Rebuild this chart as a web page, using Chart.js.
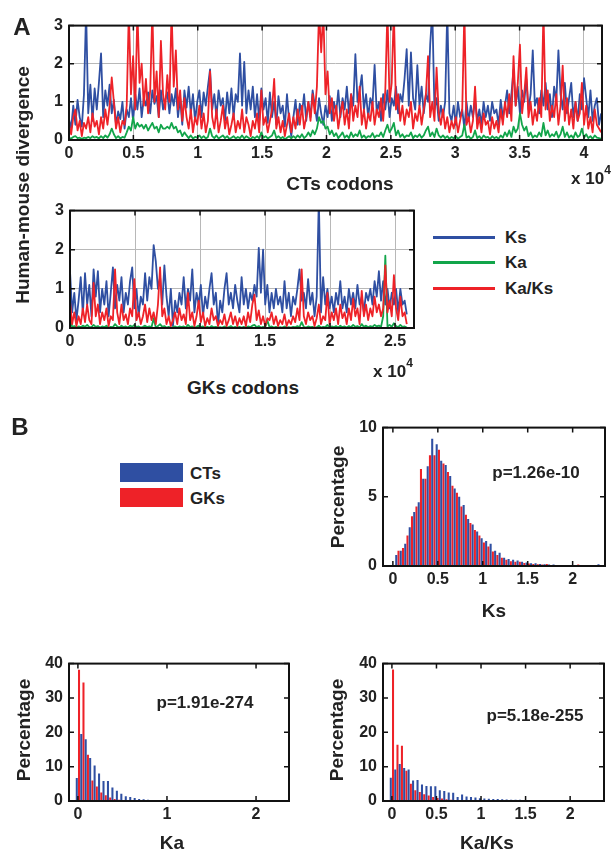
<!DOCTYPE html>
<html><head><meta charset="utf-8">
<script src="https://cdn.jsdelivr.net/npm/chart.js@4.4.1/dist/chart.umd.min.js"></script>
<style>
html,body{margin:0;padding:0;background:#fff;overflow:hidden;}
#fig{position:relative;width:614px;height:850px;font-family:"Liberation Sans",Arial,sans-serif;font-weight:bold;color:#222;overflow:hidden;}
canvas{position:absolute;}
.t{position:absolute;white-space:nowrap;line-height:1;}
.t sup{font-size:12px;vertical-align:top;position:relative;top:-6px;}
.sw{position:absolute;}
</style></head><body><div id="fig"></div>
<script>
// ---------- Panel A data ----------
const ctStep = 166;   // codons per sample (CTs)
const gkStep = 165;   // codons per sample (GKs)
const ctTicks = [0, 5000, 10000, 15000, 20000, 25000, 30000, 35000, 40000];
const gkTicks = [0, 5000, 10000, 15000, 20000, 25000];
const divTicks = [0, 1, 2, 3];

const ctKs = [
0.55,0.3,0.9,0.4,1.05,0.6,0.35,1.2,3.4,0.7,
1.45,0.5,1.35,0.8,1.5,2.27,0.6,1.3,0.9,1.45,
0.7,1.05,0.4,0.75,0.55,1.0,0.3,0.8,0.6,1.1,
0.5,1.2,0.8,1.35,0.6,1.1,0.9,1.25,0.7,1.3,
0.95,1.15,0.6,1.3,0.8,1.05,1.25,0.7,1.2,0.9,
1.35,0.6,1.1,0.4,1.3,0.85,1.4,0.7,1.2,0.5,
1.0,1.3,0.6,1.25,0.9,1.4,1.85,0.8,1.2,0.6,
1.3,0.9,1.1,0.5,1.25,0.7,1.35,0.6,1.2,1.0,
2.27,0.9,2.05,0.7,1.3,0.8,1.4,0.6,1.2,0.5,
1.35,0.8,1.1,0.45,1.25,0.6,1.0,0.4,1.15,0.7,
0.9,0.35,1.2,0.5,0.1,0.6,1.05,0.4,0.95,0.7,
1.2,0.5,1.0,0.6,1.3,0.9,0.5,1.1,0.7,0.4,
0.9,0.6,1.15,0.5,1.0,0.7,1.3,0.6,1.1,0.8,
1.4,0.7,1.2,0.9,2.25,1.0,1.3,1.7,0.8,1.2,
0.6,1.1,0.9,1.97,0.7,1.0,0.5,1.2,0.8,1.3,
0.6,1.1,0.9,1.4,0.7,1.2,1.0,1.6,2.38,0.9,
2.3,1.1,0.8,1.96,0.9,1.4,0.7,1.2,1.0,2.5,
3.4,0.8,1.1,0.5,0.9,0.6,1.0,3.4,0.7,0.5,
0.9,0.4,1.0,0.6,0.8,0.3,1.0,0.5,0.9,0.6,
1.05,0.5,0.8,0.4,1.0,0.6,0.9,0.5,1.0,0.7,
0.8,0.4,1.05,0.6,0.9,1.3,0.7,1.2,1.85,0.9,
1.4,0.7,1.3,1.0,1.6,0.8,1.2,2.35,0.9,1.1,
0.7,1.3,0.9,1.5,0.8,1.2,0.6,1.4,1.0,2.35,
1.2,0.8,1.5,0.7,1.1,1.5,0.6,1.0,0.5,1.2,
0.8,1.62,1.1,0.6,1.3,0.5,0.9,1.1,0.4,0.7];

const ctKaKs = [
0.4,0.15,0.6,0.8,0.25,0.5,0.1,0.45,0.3,0.6,
0.2,0.7,0.35,0.5,0.15,0.6,0.3,0.8,0.4,0.9,
1.64,1.0,0.3,0.6,0.2,0.5,0.4,0.9,3.4,1.2,
2.2,0.8,3.4,1.5,2.0,0.9,1.6,0.7,1.3,3.4,
1.0,1.8,0.6,2.6,1.2,0.8,1.7,1.0,3.4,1.4,
2.35,0.8,1.3,0.5,1.1,0.6,0.3,0.8,0.2,0.6,
0.4,0.9,0.3,0.7,0.2,0.5,1.8,0.6,0.3,0.8,
0.2,0.5,0.9,0.3,0.6,0.15,0.4,0.7,0.2,0.5,
0.3,0.8,0.2,0.6,0.4,0.1,0.5,0.3,0.7,0.2,
1.3,0.4,0.6,0.2,0.5,0.8,1.6,0.3,0.6,0.2,
0.5,0.1,0.4,0.7,0.2,0.6,0.3,0.8,0.4,0.9,
0.3,0.6,1.0,0.5,1.2,0.7,1.4,3.4,2.3,3.4,
1.2,1.8,0.7,1.1,0.5,0.9,0.3,0.7,1.0,0.4,
0.8,0.3,1.2,0.5,0.9,0.6,1.4,0.4,0.8,0.3,
0.7,0.5,1.0,0.4,0.8,0.6,1.1,0.5,1.3,3.4,
1.0,1.5,3.4,0.8,1.2,0.5,0.9,0.4,0.8,0.6,
1.0,0.3,0.7,0.5,0.9,0.4,0.8,1.2,2.2,0.6,
1.0,0.5,1.9,0.7,0.4,0.8,0.3,0.6,0.2,0.5,
0.3,0.6,0.2,0.5,0.8,3.4,0.4,0.6,0.2,0.5,
1.4,0.3,0.6,0.2,0.7,0.4,0.5,0.15,0.6,0.3,
0.5,0.2,0.8,0.4,1.0,0.6,1.2,0.5,2.2,0.9,
1.5,2.5,0.7,1.2,1.9,0.6,1.0,0.4,0.8,0.5,
1.1,0.6,3.4,0.8,1.3,0.5,0.9,0.6,1.2,0.4,
0.9,1.95,0.5,1.1,0.4,0.8,0.3,1.0,0.5,0.7,
1.5,0.4,0.9,0.3,0.6,0.2,0.8,0.4,0.3,0.2];

const ctKa = [
0.05,0.04,0.08,0.1,0.05,0.06,0.03,0.06,0.05,0.08,
0.05,0.1,0.06,0.08,0.04,0.1,0.05,0.12,0.06,0.15,
0.3,0.15,0.05,0.1,0.04,0.08,0.06,0.2,0.35,0.25,
0.6,0.3,0.45,0.35,0.4,0.3,0.4,0.25,0.35,0.45,
0.3,0.35,0.2,0.4,0.3,0.3,0.35,0.3,0.45,0.3,
0.35,0.2,0.25,0.1,0.2,0.12,0.05,0.12,0.04,0.08,
0.06,0.12,0.05,0.1,0.04,0.08,0.3,0.1,0.05,0.12,
0.04,0.08,0.12,0.05,0.1,0.03,0.06,0.1,0.04,0.08,
0.05,0.12,0.04,0.1,0.06,0.02,0.08,0.05,0.1,0.04,
0.2,0.06,0.1,0.04,0.08,0.12,0.25,0.05,0.1,0.04,
0.08,0.02,0.06,0.1,0.04,0.1,0.05,0.12,0.06,0.15,
0.05,0.1,0.2,0.1,0.25,0.15,0.3,0.6,0.45,0.5,
0.3,0.35,0.15,0.25,0.1,0.18,0.05,0.12,0.2,0.06,
0.12,0.05,0.2,0.08,0.15,0.1,0.25,0.06,0.12,0.05,
0.1,0.08,0.18,0.06,0.12,0.1,0.2,0.08,0.25,0.4,
0.2,0.3,0.45,0.12,0.25,0.08,0.15,0.06,0.12,0.1,
0.2,0.05,0.12,0.08,0.15,0.06,0.12,0.25,0.35,0.1,
0.2,0.08,0.3,0.12,0.06,0.12,0.05,0.1,0.03,0.08,
0.05,0.1,0.03,0.08,0.12,0.4,0.06,0.1,0.03,0.08,
0.25,0.05,0.1,0.03,0.12,0.06,0.08,0.02,0.1,0.05,
0.08,0.03,0.12,0.06,0.2,0.1,0.25,0.08,0.35,0.2,
0.3,0.7,0.4,0.25,0.35,0.1,0.2,0.06,0.12,0.08,
0.2,0.1,0.45,0.12,0.25,0.08,0.15,0.1,0.22,0.06,
0.15,0.35,0.08,0.2,0.06,0.12,0.05,0.2,0.08,0.12,
0.3,0.06,0.15,0.05,0.1,0.03,0.12,0.06,0.05,0.03];

const gkKs = [
1.45,0.4,0.9,0.2,0.7,1.3,0.35,1.4,0.6,1.1,
0.3,1.5,0.8,1.45,0.4,1.0,0.6,1.2,0.3,0.9,
1.55,0.5,1.1,0.7,1.3,0.4,0.9,0.6,1.2,1.55,
0.5,1.0,0.3,0.8,0.6,1.4,0.7,1.3,1.0,2.12,
1.7,1.0,1.3,0.6,1.6,0.8,0.3,1.0,0.05,0.7,
0.4,0.9,0.6,1.3,0.5,1.0,0.7,1.5,0.4,0.9,
0.6,1.1,0.3,0.8,0.5,1.0,1.4,0.6,0.9,0.05,
0.7,0.4,1.0,1.4,0.6,0.9,0.5,1.1,0.7,0.4,
1.3,0.6,1.0,0.5,0.9,0.7,1.1,0.8,2.05,0.9,
2.0,0.6,1.1,0.4,0.9,0.5,1.0,0.6,0.8,0.4,
1.2,0.5,0.9,0.3,0.8,0.6,1.0,1.5,0.7,0.9,
0.5,1.25,0.6,0.9,0.3,0.8,3.3,0.4,1.3,0.6,
1.0,0.5,0.8,0.4,0.9,0.6,1.2,0.5,0.8,0.4,
1.0,0.6,0.9,0.5,1.1,0.6,0.8,0.4,0.9,0.7,
1.0,0.6,1.2,0.8,1.45,0.7,1.2,0.6,1.0,0.5,
0.9,0.6,1.0,0.4,1.0,0.6,0.7,0.35];

const gkKaKs = [
0.7,0.1,0.4,0.05,0.3,0.1,0.5,0.15,0.6,0.2,
0.1,1.15,0.3,0.6,0.1,0.4,0.2,0.5,0.05,0.3,
0.2,1.5,0.4,0.1,0.6,0.2,0.35,0.1,0.5,0.3,
1.25,0.2,0.4,0.1,0.3,0.6,0.15,0.5,0.2,0.4,
0.1,0.6,1.55,0.3,0.5,0.1,0.3,0.05,0.2,0.4,
0.1,0.5,0.2,0.35,0.1,0.9,0.2,0.4,0.05,0.3,
0.7,0.15,0.4,0.05,0.25,0.1,0.5,0.2,0.3,0.05,
0.2,0.1,0.35,0.05,0.2,0.4,0.1,0.3,0.05,0.25,
0.1,0.3,0.05,0.4,0.15,0.6,0.85,0.2,0.45,0.1,
0.3,0.05,0.25,0.2,0.4,0.1,0.3,0.05,0.2,0.1,
0.35,0.05,0.2,0.1,0.3,0.15,0.5,0.2,1.5,0.3,
0.1,0.4,0.2,0.3,0.05,0.25,0.6,0.1,0.3,0.2,
0.9,0.1,0.4,0.2,0.5,0.1,0.6,0.25,0.4,0.1,
0.5,0.2,0.75,0.3,0.5,0.1,0.95,0.3,0.6,0.2,
0.5,0.3,0.8,0.4,0.6,0.3,0.5,1.6,0.4,0.7,
0.3,1.35,0.5,0.2,0.8,0.3,0.4,0.1];

const gkKa = [
0.3,0.02,0.05,0.01,0.04,0.02,0.06,0.03,0.08,0.02,
0.02,0.08,0.03,0.05,0.01,0.04,0.02,0.06,0.01,0.03,
0.02,0.1,0.04,0.01,0.06,0.02,0.04,0.01,0.06,0.03,
0.08,0.02,0.04,0.01,0.03,0.06,0.02,0.04,0.02,0.25,
0.01,0.05,0.1,0.03,0.05,0.01,0.03,0.01,0.02,0.04,
0.01,0.04,0.02,0.04,0.01,0.08,0.02,0.04,0.01,0.03,
0.06,0.02,0.04,0.01,0.03,0.01,0.05,0.02,0.03,0.01,
0.02,0.01,0.04,0.01,0.02,0.05,0.01,0.03,0.01,0.03,
0.01,0.03,0.01,0.04,0.02,0.06,0.08,0.02,0.05,0.01,
0.03,0.01,0.2,0.02,0.04,0.01,0.03,0.01,0.02,0.01,
0.04,0.01,0.02,0.01,0.03,0.02,0.05,0.02,0.15,0.03,
0.01,0.04,0.02,0.03,0.01,0.02,0.06,0.01,0.03,0.02,
0.08,0.01,0.04,0.02,0.05,0.01,0.06,0.02,0.04,0.01,
0.05,0.02,0.08,0.03,0.05,0.01,0.1,0.03,0.06,0.02,
0.05,0.03,0.08,0.04,0.06,0.03,0.3,1.85,0.04,0.08,
0.03,0.12,0.05,0.02,0.08,0.03,0.04,0.01];

// ---------- Panel B data (percentage per 0.05 bin) ----------
const ksBins = [0.05,0.10,0.15,0.20,0.25,0.30,0.35,0.40,0.45,0.50,0.55,0.60,0.65,0.70,0.75,0.80,0.85,0.90,0.95,1.00,
1.05,1.10,1.15,1.20,1.25,1.30,1.35,1.40,1.45,1.50,1.55,1.60,1.65,1.70,1.75,1.80,1.85,1.90,1.95,2.00,2.05,2.10,2.15,2.20,2.25,2.30];
const ksCTs = [0.8,1.1,1.6,2.8,3.9,4.6,6.3,7.2,9.2,8.8,7.6,7.3,6.5,5.6,5.0,4.4,3.4,3.0,2.5,2.0,
1.8,1.6,1.1,0.95,0.6,0.5,0.45,0.4,0.3,0.25,0.2,0.2,0.15,0.12,0.1,0.1,0.08,0.07,0.06,0.05,0.05,0.04,0.03,0.03,0.02,0.12];
const ksGKs = [1.1,1.3,2.2,3.6,4.3,7.0,6.3,8.0,8.0,8.4,7.4,6.8,5.8,5.3,4.3,3.7,3.1,2.6,2.2,1.7,
1.4,1.05,0.8,0.6,0.45,0.35,0.3,0.3,0.22,0.18,0.15,0.12,0.1,0.15,0.06,0.05,0.05,0.04,0.03,0.03,0.1,0.04,0.02,0.02,0.01,0.01];

const kaBins = [0,0.05,0.10,0.15,0.20,0.25,0.30,0.35,0.40,0.45,0.50,0.55,0.60,0.65,0.70,0.75,0.80,0.85,0.90,0.95,1.00,1.05,1.10,1.15,1.20];
const kaCTs = [6.7,19.5,18.0,12.5,10.3,8.0,5.8,5.8,3.9,3.0,2.1,1.4,1.2,0.9,0.6,0.5,0.4,0.3,0.25,0.2,0.15,0.1,0.08,0.06,0.05];
const kaGKs = [38.2,34.5,13.5,6.0,4.2,2.5,1.7,1.0,0.6,0.4,0.25,0.15,0.1,0.08,0.05,0.04,0.03,0.02,0.02,0.01,0.01,0,0,0,0];

const kaksBins = [0,0.05,0.10,0.15,0.20,0.25,0.30,0.35,0.40,0.45,0.50,0.55,0.60,0.65,0.70,0.75,0.80,0.85,0.90,0.95,
1.00,1.05,1.10,1.15,1.20,1.25,1.30,1.35,1.40,1.45,1.50,1.55,1.60,1.65,1.70,1.75,1.80,1.85,1.90,1.95,2.00,2.05,2.10,2.15,2.20,2.25];
const kaksCTs = [6.8,9.2,10.8,9.6,9.2,6.0,6.1,4.8,4.4,4.3,4.3,3.1,2.9,2.5,2.4,1.2,1.9,1.3,1.2,1.0,
0.8,0.7,0.65,0.6,0.55,0.5,0.45,0.4,0.38,0.35,0.3,0.28,0.25,0.22,0.2,0.2,0.18,0.16,0.15,0.14,0.12,0.1,0.1,0.08,0.08,0.06];
const kaksGKs = [38.3,16.4,16.1,8.8,5.0,3.1,2.6,2.0,1.6,1.2,0.9,0.7,0.5,0.4,0.3,0.25,0.2,0.18,0.15,0.12,
0.1,0.1,0.08,0.08,0.06,0.06,0.05,0.05,0.04,0.04,0.3,0.04,0.03,0.03,0.03,0.02,0.02,0.02,0.02,0.01,0.01,0.01,0.01,0.01,0.01,0.01];
const histTicksHalf = [0, 0.5, 1, 1.5, 2];
const histTicksOne = [0, 1, 2];
const ksYTicks = [0, 5, 10];
const pctYTicks = [0, 10, 20, 30, 40];

// ---------- styling ----------
const BLUE = '#2f4fa2', RED = '#ee2228', GREEN = '#12a54a';
Chart.defaults.font.family = '"Liberation Sans", Arial, sans-serif';
Chart.defaults.font.weight = 'bold';
Chart.defaults.font.size = 16;
Chart.defaults.color = '#222';

const fig = document.getElementById('fig');

const boxPlugin = {
  id: 'matlabBox',
  afterDatasetsDraw(chart) {
    const {ctx, chartArea: a, scales: {x, y}} = chart;
    ctx.save();
    ctx.strokeStyle = '#111';
    ctx.lineWidth = 1.5;
    const tl = 5;
    ctx.beginPath();
    x.ticks.forEach(t => {
      const px = x.getPixelForValue(t.value);
      ctx.moveTo(px, a.bottom); ctx.lineTo(px, a.bottom - tl);
      ctx.moveTo(px, a.top); ctx.lineTo(px, a.top + tl);
    });
    y.ticks.forEach(t => {
      const py = y.getPixelForValue(t.value);
      ctx.moveTo(a.left, py); ctx.lineTo(a.left + tl, py);
      ctx.moveTo(a.right, py); ctx.lineTo(a.right - tl, py);
    });
    ctx.stroke();
    ctx.lineWidth = 2;
    ctx.strokeRect(a.left, a.top, a.right - a.left, a.bottom - a.top);
    ctx.restore();
  }
};

function makeCanvas(L, T, R, B) {
  const padL = 60, padT = 12, padR = 12, padB = 40;
  const c = document.createElement('canvas');
  const w = (R - L) + padL + padR, h = (B - T) + padT + padB;
  c.width = w; c.height = h;
  c.style.width = w + 'px'; c.style.height = h + 'px';
  c.style.left = (L - padL) + 'px'; c.style.top = (T - padT) + 'px';
  fig.appendChild(c);
  return {c, layout: {padding: {left: 0, top: padT, right: padR, bottom: 0}}, padL, padB};
}

function axes(xmin, xmax, xticks, xfmt, ymin, ymax, yticks, grid, padL, padB) {
  return {
    x: {
      type: 'linear', min: xmin, max: xmax, offset: false,
      afterBuildTicks: s => { s.ticks = xticks.map(v => ({value: v})); },
      afterFit: s => { s.height = padB; },
      ticks: {padding: 4, color: '#222', font: {size: 16, weight: 'bold'}, callback: xfmt, maxRotation: 0, autoSkip: false},
      grid: {display: grid, drawTicks: false, color: '#b8b8b8', lineWidth: 1, offset: false},
      border: {display: false}
    },
    y: {
      type: 'linear', min: ymin, max: ymax,
      afterBuildTicks: s => { s.ticks = yticks.map(v => ({value: v})); },
      afterFit: s => { s.width = padL; },
      ticks: {padding: 6, color: '#222', font: {size: 16, weight: 'bold'}},
      grid: {display: grid, drawTicks: false, color: '#b8b8b8', lineWidth: 1},
      border: {display: false}
    }
  };
}

function lineChart(L, T, R, B, step, ks, ka, kaks, xmax, xticks) {
  const m = makeCanvas(L, T, R, B);
  const pts = arr => arr.map((v, i) => ({x: i * step, y: v}));
  new Chart(m.c, {
    type: 'line',
    data: {datasets: [
      {label: 'Ka/Ks', data: pts(kaks), borderColor: RED, order: 0},
      {label: 'Ka', data: pts(ka), borderColor: GREEN, order: 1},
      {label: 'Ks', data: pts(ks), borderColor: BLUE, order: 2}
    ]},
    options: {
      responsive: false, animation: false, layout: m.layout,
      datasets: {line: {borderWidth: 1.8, pointRadius: 0, tension: 0, borderJoinStyle: 'round', fill: false}},
      plugins: {legend: {display: false}, tooltip: {enabled: false}},
      scales: axes(0, xmax, xticks, v => String(v / 10000), 0, 3, divTicks, true, m.padL, m.padB)
    },
    plugins: [boxPlugin]
  });
}

function histChart(L, T, R, B, bins, cts, gks, xmin, xmax, xticks, ymax, yticks) {
  const m = makeCanvas(L, T, R, B);
  const pts = arr => bins.map((b, i) => ({x: b, y: arr[i]}));
  new Chart(m.c, {
    type: 'bar',
    data: {datasets: [
      {label: 'CTs', data: pts(cts), backgroundColor: BLUE},
      {label: 'GKs', data: pts(gks), backgroundColor: RED}
    ]},
    options: {
      responsive: false, animation: false, layout: m.layout,
      datasets: {bar: {categoryPercentage: 1.0, barPercentage: 0.92, borderWidth: 0}},
      plugins: {legend: {display: false}, tooltip: {enabled: false}},
      scales: axes(xmin, xmax, xticks, v => String(v), 0, ymax, yticks, false, m.padL, m.padB)
    },
    plugins: [boxPlugin]
  });
}

// Panel A
lineChart(69, 22, 602, 140, ctStep, ctKs, ctKa, ctKaKs, 41400, ctTicks);
lineChart(70, 207, 414, 328, gkStep, gkKs, gkKa, gkKaKs, 26460, gkTicks);
// Panel B
histChart(383, 424, 605, 566, ksBins, ksCTs, ksGKs, -0.11, 2.36, histTicksHalf, 10, ksYTicks);
histChart(69, 660, 289, 801, kaBins, kaCTs, kaGKs, -0.1, 2.37, histTicksOne, 40, pctYTicks);
histChart(383, 660, 604, 801, kaksBins, kaksCTs, kaksGKs, -0.1, 2.38, histTicksHalf, 40, pctYTicks);

// ---------- text & legends ----------
function txt(html, cx, cy, size, rot) {
  const d = document.createElement('div');
  d.className = 't';
  d.innerHTML = html;
  d.style.fontSize = size + 'px';
  d.style.left = cx + 'px'; d.style.top = cy + 'px';
  d.style.transform = 'translate(-50%,-50%)' + (rot ? ' rotate(' + rot + 'deg)' : '');
  fig.appendChild(d);
}
function swatch(x, y, w, h, color) {
  const d = document.createElement('div');
  d.className = 'sw';
  Object.assign(d.style, {left: x + 'px', top: y + 'px', width: w + 'px', height: h + 'px', background: color});
  fig.appendChild(d);
}
function ltxt(html, x, cy, size) {
  const d = document.createElement('div');
  d.className = 't';
  d.innerHTML = html;
  d.style.fontSize = size + 'px';
  d.style.left = x + 'px'; d.style.top = cy + 'px';
  d.style.transform = 'translateY(-50%)';
  fig.appendChild(d);
}

txt('A', 22, 27, 24);
txt('Human-mouse divergence', 22, 185, 19, -90);
txt('CTs codons', 340, 183, 19);
txt('x 10<sup>4</sup>', 591, 178, 17);
txt('GKs codons', 243, 387, 19);
txt('x 10<sup>4</sup>', 393, 371, 17);

const legA = [['Ks', BLUE, 237], ['Ka', GREEN, 262], ['Ka/Ks', RED, 288]];
legA.forEach(([name, col, y]) => { swatch(433, y - 1.5, 62, 3, col); ltxt(name, 505, y, 17); });

txt('B', 20, 427, 24);
swatch(120, 463, 63, 19, BLUE);
swatch(120, 488, 63, 19, RED);
ltxt('CTs', 190, 473, 17);
ltxt('GKs', 190, 498, 17);

txt('Percentage', 337, 497, 19, -90);
txt('Ks', 494, 610, 19);
txt('p=1.26e-10', 536, 472, 17);

txt('Percentage', 23, 730, 19, -90);
txt('Ka', 172, 842, 19);
txt('p=1.91e-274', 205, 702, 17);

txt('Percentage', 336, 730, 19, -90);
txt('Ka/Ks', 487, 842, 19);
txt('p=5.18e-255', 535, 715, 17);
</script>
</body></html>
